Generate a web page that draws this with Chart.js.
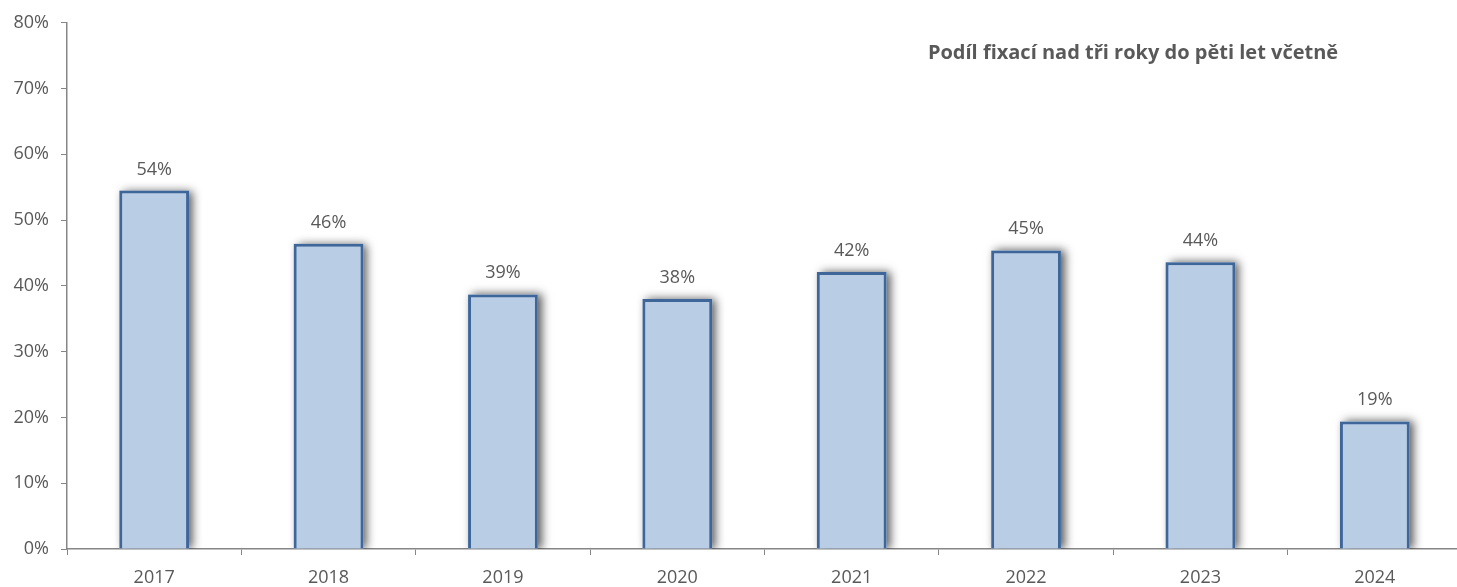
<!DOCTYPE html>
<html><head><meta charset="utf-8">
<script src="https://cdn.jsdelivr.net/npm/chart.js@4"></script>
<style>
html,body{margin:0;padding:0;background:#fff;overflow:hidden;}
#wrap{width:1462px;height:587px;position:relative;}
</style></head>
<body><div id="wrap"><canvas id="c"></canvas></div>
<script>
const categories = ['2017','2018','2019','2020','2021','2022','2023','2024'];
const shares = [0.545, 0.464, 0.387, 0.380, 0.421, 0.454, 0.436, 0.194];
const valueLabels = ['54%','46%','39%','38%','42%','45%','44%','19%'];
const chartTitle = 'Podíl fixací nad tři roky do pěti let včetně';

const textColor = '#595959';
const fontFam = "'Open Sans', 'Noto Sans', sans-serif";

const shadowPlugin = {
  id: 'shadow',
  beforeDatasetsDraw(chart) {
    const ctx = chart.ctx;
    const ca = chart.chartArea;
    const meta = chart.getDatasetMeta(0);
    ctx.save();
    ctx.beginPath();
    ctx.rect(ca.left, 0, ca.right - ca.left, ca.bottom);
    ctx.clip();
    ctx.shadowColor = 'rgba(0,0,0,0.65)';
    ctx.shadowBlur = 9;
    ctx.shadowOffsetX = 4;
    ctx.shadowOffsetY = 0;
    ctx.fillStyle = '#B9CDE5';
    meta.data.forEach(bar => {
      const p = bar.getProps(['x', 'y', 'base', 'width'], true);
      ctx.fillRect(p.x - p.width / 2, p.y, p.width, p.base - p.y);
    });
    ctx.restore();
  },
  afterDatasetsDraw(chart) {
    const ctx = chart.ctx;
    const meta = chart.getDatasetMeta(0);
    ctx.save();
    ctx.fillStyle = textColor;
    ctx.font = "18px " + fontFam;
    ctx.textAlign = 'center';
    ctx.textBaseline = 'alphabetic';
    meta.data.forEach((bar, i) => {
      ctx.fillText(valueLabels[i], bar.x, bar.y - 16);
    });
    ctx.font = "bold 20px " + fontFam;
    ctx.fillText(chartTitle, 1133, 59);
    ctx.restore();
  }
};

new Chart(document.getElementById('c'), {
  type: 'bar',
  data: {
    labels: categories,
    datasets: [{
      data: shares,
      backgroundColor: '#B9CDE5',
      borderColor: '#3E6699',
      borderWidth: 3,
      borderSkipped: 'bottom',
      barPercentage: 0.8,
      categoryPercentage: 0.5
    }]
  },
  options: {
    responsive: true,
    maintainAspectRatio: false,
    animation: false,
    layout: { padding: { top: 8, left: 0, right: 0, bottom: 0 } },
    plugins: { legend: { display: false }, tooltip: { enabled: false } },
    scales: {
      x: {
        grid: { display: true, drawOnChartArea: false, drawTicks: true, tickLength: 6, color: '#868686', offset: true },
        border: { display: true, color: '#868686', width: 1.5 },
        ticks: { color: textColor, font: { size: 18, family: fontFam }, padding: 12 },
        afterFit(scale) { scale.height = 38; }
      },
      y: {
        min: 0, max: 0.8,
        grid: { display: true, drawOnChartArea: false, drawTicks: true, tickLength: 6, color: '#868686' },
        border: { display: true, color: '#868686', width: 1.5 },
        ticks: {
          stepSize: 0.1,
          color: textColor,
          font: { size: 18, family: fontFam },
          padding: 12,
          callback: v => Math.round(v * 100) + '%'
        },
        afterFit(scale) { scale.width = 67; }
      }
    }
  },
  plugins: [shadowPlugin]
});
</script></body></html>
